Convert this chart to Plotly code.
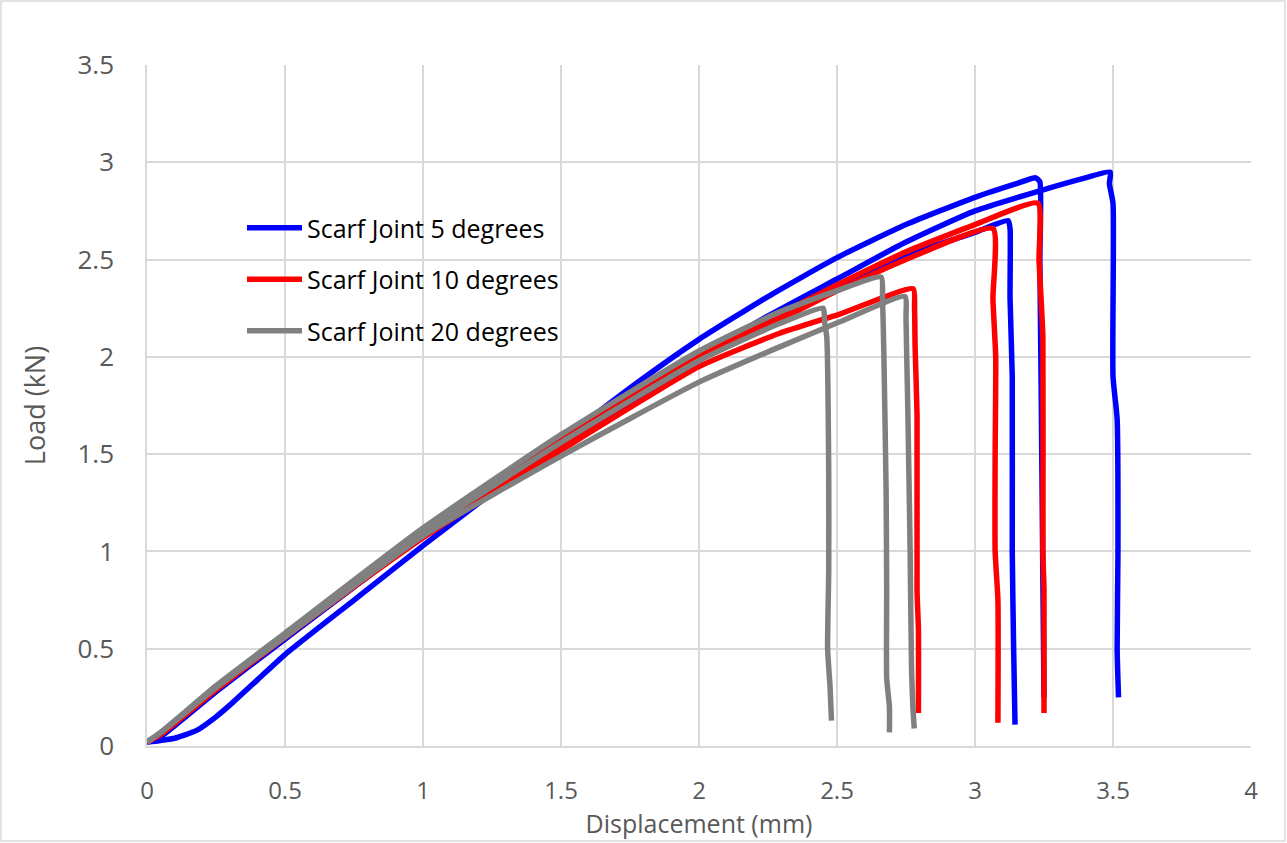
import plotly.graph_objects as go

# ---- data (Displacement mm, Load kN) ----
b1_x = [0, 0.1, 0.18, 0.25, 0.3, 0.4, 0.5, 0.75, 1.0, 1.25, 1.5, 1.75, 2.0, 2.25, 2.5, 2.75, 3.0, 3.15, 3.22, 3.235, 3.235, 3.24, 3.245, 3.25]
b1_y = [0.02, 0.04, 0.08, 0.15, 0.21, 0.34, 0.47, 0.75, 1.03, 1.30, 1.57, 1.84, 2.09, 2.31, 2.51, 2.68, 2.82, 2.89, 2.92, 2.90, 2.5, 1.8, 1.0, 0.25]

b2_x = [0, 0.05, 0.25, 0.5, 1.0, 1.5, 2.0, 2.25, 2.5, 2.75, 3.0, 3.25, 3.4, 3.49, 3.487, 3.50, 3.50, 3.515, 3.518, 3.515, 3.52]
b2_y = [0.02, 0.05, 0.28, 0.55, 1.08, 1.56, 2.0, 2.21, 2.40, 2.59, 2.75, 2.86, 2.92, 2.95, 2.89, 2.79, 1.9, 1.68, 1.0, 0.5, 0.25]

b3_x = [0, 0.05, 0.25, 0.5, 1.0, 1.5, 2.0, 2.25, 2.5, 2.75, 3.0, 3.12, 3.127, 3.127, 3.135, 3.135, 3.14, 3.145]
b3_y = [0.02, 0.05, 0.28, 0.55, 1.08, 1.55, 1.98, 2.18, 2.36, 2.52, 2.64, 2.70, 2.66, 2.3, 1.9, 1.0, 0.5, 0.11]

r1_x = [0, 0.05, 0.25, 0.5, 1.0, 1.5, 2.0, 2.25, 2.5, 2.75, 3.0, 3.228, 3.232, 3.246, 3.246, 3.25, 3.25]
r1_y = [0.02, 0.06, 0.29, 0.56, 1.09, 1.57, 2.01, 2.19, 2.37, 2.54, 2.68, 2.79, 2.5, 2.1, 1.0, 0.8, 0.17]

r2_x = [0, 0.05, 0.25, 0.5, 1.0, 1.5, 2.0, 2.25, 2.5, 2.75, 3.065, 3.065, 3.075, 3.073, 3.073, 3.083, 3.083]
r2_y = [0.02, 0.06, 0.29, 0.56, 1.08, 1.55, 1.99, 2.16, 2.34, 2.50, 2.66, 2.3, 2.0, 1.5, 1.0, 0.75, 0.12]

r3_x = [0, 0.05, 0.25, 0.5, 1.0, 1.5, 2.0, 2.29, 2.51, 2.776, 2.781, 2.783, 2.79, 2.79, 2.795, 2.795]
r3_y = [0.02, 0.06, 0.29, 0.56, 1.07, 1.52, 1.95, 2.12, 2.22, 2.35, 2.25, 2.05, 1.7, 0.8, 0.6, 0.17]

g1_x = [0, 0.05, 0.25, 0.5, 1.0, 1.5, 2.0, 2.29, 2.5, 2.66, 2.665, 2.67, 2.678, 2.68, 2.68, 2.69, 2.69]
g1_y = [0.02, 0.07, 0.31, 0.58, 1.12, 1.60, 2.03, 2.23, 2.34, 2.41, 2.3, 2.0, 1.3, 0.8, 0.35, 0.2, 0.07]

g2_x = [0, 0.05, 0.25, 0.5, 1.0, 1.5, 2.0, 2.29, 2.45, 2.455, 2.463, 2.47, 2.47, 2.466, 2.475, 2.48]
g2_y = [0.02, 0.07, 0.30, 0.57, 1.10, 1.56, 1.98, 2.17, 2.25, 2.18, 2.1, 1.4, 0.9, 0.5, 0.3, 0.13]

g3_x = [0, 0.05, 0.25, 0.5, 1.0, 1.5, 2.0, 2.29, 2.51, 2.746, 2.75, 2.752, 2.757, 2.765, 2.77, 2.775, 2.78]
g3_y = [0.02, 0.07, 0.30, 0.56, 1.08, 1.49, 1.87, 2.05, 2.18, 2.31, 2.2, 2.05, 1.7, 1.0, 0.4, 0.2, 0.09]

series = [
    ("Scarf Joint 5 degrees", "#0000FF", [(b1_x, b1_y), (b2_x, b2_y), (b3_x, b3_y)]),
    ("Scarf Joint 10 degrees", "#FF0000", [(r1_x, r1_y), (r2_x, r2_y), (r3_x, r3_y)]),
    ("Scarf Joint 20 degrees", "#808080", [(g1_x, g1_y), (g2_x, g2_y), (g3_x, g3_y)]),
]

x_ticks = [0, 0.5, 1, 1.5, 2, 2.5, 3, 3.5, 4]
y_ticks = [0, 0.5, 1, 1.5, 2, 2.5, 3, 3.5]

fig = go.Figure()
for name, color, curves in series:
    for i, (xs, ys) in enumerate(curves):
        fig.add_trace(go.Scatter(
            x=xs, y=ys, mode="lines", name=name,
            legendgroup=name, showlegend=(i == 0),
            line=dict(color=color, width=5.5, shape="spline", smoothing=0.5),
        ))

W, H = 1287, 843
L, R, T, B = 147, 36, 65, 97
pw, ph = W - L - R, H - T - B

def px_x(p):
    return (p - L) / pw

def px_y(p):
    return (H - B - p) / ph

xtick_font = dict(family="Open Sans, sans-serif", size=24, color="#595959")
ytick_font = dict(family="Open Sans, sans-serif", size=26, color="#595959")
xtitle_font = dict(family="Open Sans, sans-serif", size=25, color="#595959")
ytitle_font = dict(family="Open Sans, sans-serif", size=27, color="#595959")

fig.update_layout(
    width=W, height=H,
    margin=dict(l=L, r=R, t=T, b=B, autoexpand=False),
    paper_bgcolor="white", plot_bgcolor="white",
    showlegend=True,
    legend=dict(
        x=px_x(242), y=px_y(205), xanchor="left", yanchor="top",
        bgcolor="rgba(0,0,0,0)", borderwidth=0,
        font=dict(family="Open Sans, sans-serif", size=25, color="black"),
        tracegroupgap=16, itemwidth=55,
    ),
    xaxis=dict(
        range=[0, 4], tickvals=x_ticks, ticktext=[f"{v:g}" for v in x_ticks],
        showgrid=True, gridcolor="#d9d9d9", gridwidth=1.5,
        zeroline=False, showline=True, linecolor="#d9d9d9", linewidth=1.5,
        ticks="", tickfont=xtick_font, ticklabelstandoff=22,
        title=dict(text="Displacement (mm)", font=xtitle_font, standoff=10),
        fixedrange=True,
    ),
    yaxis=dict(
        range=[0, 3.5], tickvals=y_ticks, ticktext=[f"{v:g}" for v in y_ticks],
        showgrid=True, gridcolor="#d9d9d9", gridwidth=1.5,
        zeroline=False, showline=True, linecolor="#d9d9d9", linewidth=1.5,
        ticks="", tickfont=ytick_font, ticklabelstandoff=26,
        title=dict(text="Load (kN)", font=ytitle_font, standoff=24),
        fixedrange=True,
    ),
    shapes=[
        dict(type="rect", xref="paper", yref="paper", layer="between",
             x0=px_x(175), x1=px_x(580), y0=px_y(395), y1=px_y(191),
             fillcolor="white", line=dict(width=0)),
        dict(type="rect", xref="paper", yref="paper", layer="above",
             x0=px_x(1), x1=px_x(1285), y0=px_y(841), y1=px_y(1),
             fillcolor="rgba(0,0,0,0)", line=dict(color="#d9d9d9", width=1.5)),
    ],
)

fig.write_html("out.html")
